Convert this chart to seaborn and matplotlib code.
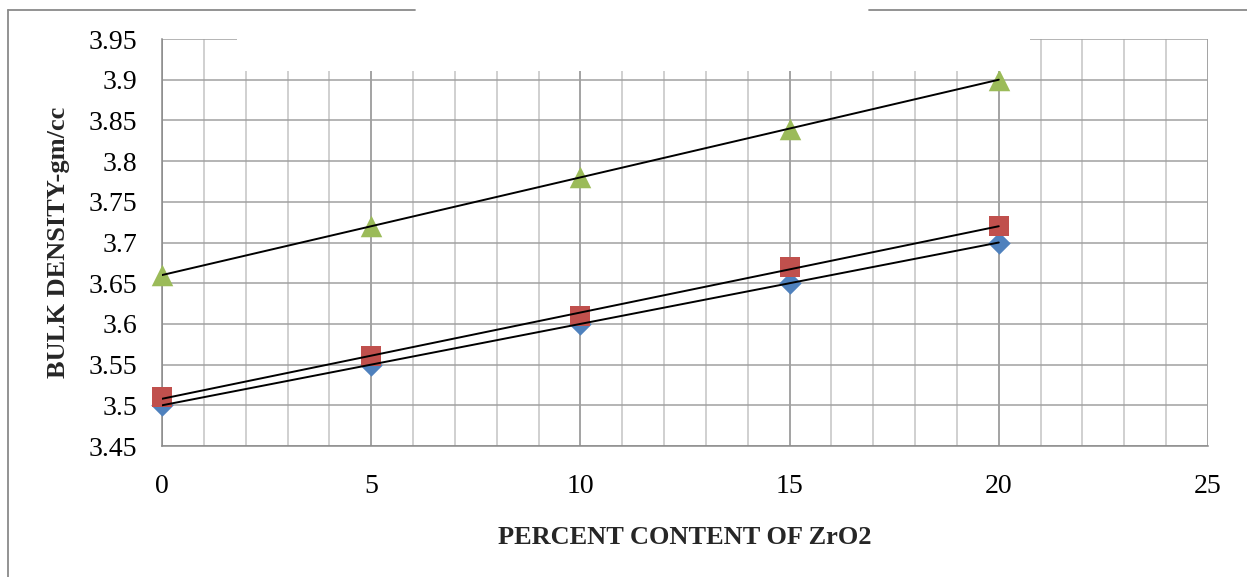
import numpy as np
import pandas as pd
import seaborn as sns
import matplotlib
matplotlib.use("Agg")
from matplotlib import pyplot as plt
from matplotlib.ticker import MultipleLocator, FuncFormatter
from matplotlib.patches import Rectangle
from matplotlib.lines import Line2D

zro2 = [0, 5, 10, 15, 20]
density_a = [3.50, 3.55, 3.60, 3.65, 3.70]   # blue diamonds
density_b = [3.51, 3.56, 3.61, 3.67, 3.72]   # red squares
density_c = [3.66, 3.72, 3.78, 3.84, 3.90]   # green triangles

x_ticks = [0, 5, 10, 15, 20, 25]
y_ticks = [3.45, 3.5, 3.55, 3.6, 3.65, 3.7, 3.75, 3.8, 3.85, 3.9, 3.95]

sns.set_style("white")
plt.rcParams['font.family'] = ['Liberation Serif', 'DejaVu Serif']

fig = plt.figure(figsize=(12.47, 5.77), dpi=100)
ax = fig.add_axes([0.1299, 0.2270, 0.8388, 0.7054])

series = [
    (density_a, "D", "#4F81BD", 130),
    (density_b, "s", "#C0504D", 215),
    (density_c, "^", "#9BBB59", 240),
]
for vals, mk, col, sz in series:
    df = pd.DataFrame({'x': zro2, 'y': vals})
    sns.scatterplot(x='x', y='y', data=df, marker=mk, color=col, s=sz,
                    linewidth=0, ax=ax, zorder=3, clip_on=False)
for vals, mk, col, sz in series:
    df = pd.DataFrame({'x': zro2, 'y': vals})
    sns.regplot(x='x', y='y', data=df, scatter=False, ci=None, truncate=True,
                color='black', line_kws={'lw': 1.4, 'zorder': 4}, ax=ax)

ax.set_xlim(0, 25)
ax.set_ylim(3.45, 3.95)
ax.set_xticks(x_ticks)
ax.set_yticks(y_ticks)
ax.xaxis.set_minor_locator(MultipleLocator(1))
ax.yaxis.set_major_formatter(FuncFormatter(lambda v, p: f"{v:g}"))

ax.grid(True, which='major', axis='x', color='#8a8a8a', lw=1.1)
ax.grid(True, which='minor', axis='x', color='#c4c4c4', lw=1.1)
ax.grid(True, which='major', axis='y', color='#a0a0a0', lw=1.1)
ax.set_axisbelow(True)

for side in ['top', 'right']:
    ax.spines[side].set_visible(False)
for side in ['left', 'bottom']:
    ax.spines[side].set_color('#8a8a8a')
    ax.spines[side].set_linewidth(1.1)

ax.tick_params(axis='both', which='major', direction='out', length=5,
               width=1.1, color='#8a8a8a', labelsize=20, labelcolor='black')
ax.tick_params(axis='x', which='major', pad=15)
ax.tick_params(axis='y', which='major', pad=13)
ax.tick_params(axis='x', which='minor', length=0)

ax.set_xlabel("PERCENT CONTENT OF ZrO2", fontsize=19, fontweight='bold')
ax.set_ylabel("BULK DENSITY-gm/cc", fontsize=19, fontweight='bold')
ax.xaxis.set_label_coords(0.5, -0.197)
ax.yaxis.set_label_coords(-0.088, 0.5)

# white box over the top of the grid (chart title area left empty)
fig.add_artist(Rectangle((237 / 1247, 1 - 71 / 577), (1030 - 237) / 1247, 71 / 577,
                         transform=fig.transFigure, facecolor='white',
                         edgecolor='none', zorder=10))

# outer chart border, broken at the top
bc = '#8a8a8a'
fig.add_artist(Line2D([8 / 1247, 8 / 1247], [0, 1 - 10 / 577], transform=fig.transFigure,
                      color=bc, lw=1.3, zorder=11))
fig.add_artist(Line2D([8 / 1247, 415 / 1247], [1 - 10 / 577, 1 - 10 / 577],
                      transform=fig.transFigure, color=bc, lw=1.3, zorder=11))
fig.add_artist(Line2D([869 / 1247, 1], [1 - 10 / 577, 1 - 10 / 577],
                      transform=fig.transFigure, color=bc, lw=1.3, zorder=11))

fig.savefig("out.png", dpi=100)
